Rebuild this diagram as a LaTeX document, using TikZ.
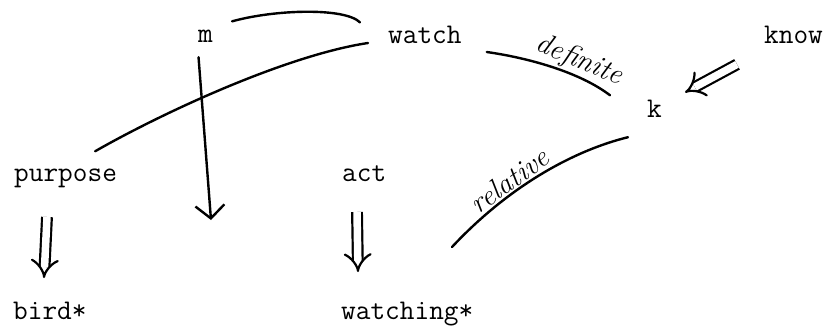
\documentclass[tikz,border=0pt]{standalone}
\usepackage{tikz}
\usetikzlibrary{arrows.meta}

\begin{document}
\begin{tikzpicture}[
  x=1pt, y=-1pt,
  word/.style={font=\fontsize{28.5}{30}\selectfont\ttfamily, anchor=base west, inner sep=0pt},
  hand/.style={font=\fontsize{29}{30}\selectfont\itshape, sloped, above, inner sep=1pt},
  ln/.style={line width=2.4pt, line cap=round},
  dbl/.style={line width=2.2pt, double, double distance=7.5pt, -{Implies[scale=1.25]}},
  arr/.style={ln, -{Straight Barb[length=13pt, width=29pt]}},
]
  \useasboundingbox (0,0) rectangle (826,325);

  % words
  \node[word] (m)        at (198,42)  {m};
  \node[word] (watch)    at (388,43)  {watch};
  \node[word] (know)     at (764,43)  {know};
  \node[word] (k)        at (647,117) {k};
  \node[word] (purpose)  at (14,181)  {purpose};
  \node[word] (act)      at (342,181) {act};
  \node[word] (bird)     at (13,319)  {bird*};
  \node[word] (watching) at (341,319) {watching*};

  \coordinate (mtip)   at (211,220);
  \coordinate (relend) at (452,247);

  % links
  \draw[ln] ([shift={(19,-8)}]m.north east) .. controls +(43,-12) and +(-15,-15) .. ([shift={(-28,-3)}]watch.north west);
  \draw[ln] ([shift={(-20,0)}]watch.base west) .. controls +(-80,12) and +(70,-40) .. ([shift={(-22,-17)}]purpose.north east);
  \draw[arr] ([shift={(-7,15)}]m.south) -- (mtip);
  \draw[ln] ([shift={(25,9)}]watch.base east) .. controls +(42,6) and +(-30,-23) .. ([shift={(-37,-13)}]k.west)
    node[hand, pos=0.66] {definite};
  \draw[ln] ([shift={(-19,20)}]k.south west) .. controls +(-53,13) and +(58,-62) .. (relend)
    node[hand, pos=0.64] {relative};

  % double arrows
  \draw[dbl] ([shift={(-27,21)}]know.south west) -- ([shift={(23,-7)}]k.north east);
  \draw[dbl] ([shift={(33,36)}]purpose.base west) -- ([shift={(31,-41)}]bird.base west);
  \draw[dbl] ([shift={(15,31)}]act.base west) -- ([shift={(17,-47)}]watching.base west);
\end{tikzpicture}
\end{document}
